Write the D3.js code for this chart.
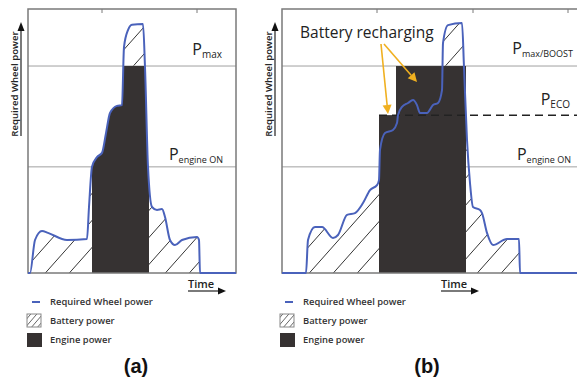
<!DOCTYPE html>
<html>
<head>
<meta charset="utf-8">
<script src="https://cdn.jsdelivr.net/npm/d3@7"></script>
<style>
  body { margin: 0; background: #fff; }
  svg { display: block; font-family: "Open Sans", sans-serif; }
</style>
</head>
<body>
<svg id="canvas" width="577" height="385"></svg>
<script>
// required wheel power over time, [time, power %]
const curveA = [[0,0],[1,0],[3.5,12.5],[7,15.9],[10,15.2],[19.5,12.5],[29.5,12.9],[30.5,25],[32,40.2],
  [34.5,43.9],[37,45.5],[39,53],[41,60.6],[44.5,63.3],[47,63.6],[48,85.6],[50,92],[52,94],[57.5,94.3],
  [58.5,78],[60,40.2],[62,25],[64.5,23.9],[67,24.2],[68.5,21.2],[71,12.5],[73.5,10.6],[77,12.5],
  [84.5,13.6],[85.5,12.5],[86,0],[104,0]];
const curveB = [[0,0],[12,0],[13,12.5],[16.5,17.4],[20,17.4],[25.5,13.3],[28,14.4],[32.5,22],[36.5,22.7],
  [40.5,26.5],[44,31.4],[47.5,33.3],[48.5,35.2],[49,46.6],[51.5,53],[55.5,54.2],[57.5,56.8],[58,59.8],
  [60,62.9],[63,64.4],[65.5,65.5],[67.5,63.6],[69,60.6],[72.5,60.6],[75.5,63.6],[78,64.4],[80,69.3],
  [80.5,87.1],[83,93.9],[90,94.7],[91,78],[92.5,50.4],[94,34.1],[95.5,25],[99,23.9],[100,22.7],
  [102.5,15.2],[105.5,10.6],[112.5,12.9],[118.5,12.9],[119,0],[150,0]];

// power levels
const P_MAX = 78.4, P_ECO = 59.8, P_ENGINE_ON = 40.2;

// engine running windows [start, end, top level]
const engineA = [[32, 60.5, P_MAX]];
const engineB = [[48.5, 92, P_ECO], [57, 92, P_MAX]];

const legendLabels = ["Required Wheel power", "Battery power", "Engine power"];

const svg = d3.select("#canvas");
const blue = "#4a62bb", dark = "#363232", grid = "#a0a0a0";

const y = d3.scaleLinear([0, 100], [273, 9]);
const xa = d3.scaleLinear([0, 104], [28, 236]);
const xb = d3.scaleLinear([0, 150], [282, 582]);

const defs = svg.append("defs");
defs.append("pattern").attr("id", "hatch")
    .attr("patternUnits", "userSpaceOnUse").attr("width", 24).attr("height", 27)
  .append("path").attr("d", "M-24,27L0,0M0,27L24,0M24,27L48,0")
    .attr("stroke", "#333").attr("stroke-width", 1);
defs.append("pattern").attr("id", "hatchSmall")
    .attr("patternUnits", "userSpaceOnUse").attr("width", 6).attr("height", 7)
  .append("path").attr("d", "M-6,7L0,0M0,7L6,0M6,7L12,0")
    .attr("stroke", "#666").attr("stroke-width", 1);

function drawPanel(cfg) {
  const x = cfg.x;
  const g = svg.append("g");
  const left = x.range()[0], right = cfg.right;

  g.append("rect").attr("x", left).attr("y", y(100)).attr("width", right - left)
    .attr("height", y(0) - y(100)).attr("fill", "#fff");

  const area = d3.area().curve(d3.curveMonotoneX)
    .x(d => x(d[0])).y0(y(0)).y1(d => y(d[1]));
  const line = d3.line().curve(d3.curveMonotoneX)
    .x(d => x(d[0])).y(d => y(d[1]));

  // battery power (everything under the demand curve)
  g.append("path").datum(cfg.curve).attr("d", area).attr("fill", "url(#hatch)");

  // level lines
  [P_MAX, P_ENGINE_ON].forEach(p => {
    g.append("line").attr("x1", left).attr("x2", right).attr("y1", y(p)).attr("y2", y(p))
      .attr("stroke", grid).attr("stroke-width", 1);
  });

  // engine power
  if (cfg.clipToCurve) {
    const id = "clip" + cfg.id;
    const cp = defs.append("clipPath").attr("id", id);
    cfg.engine.forEach(e => {
      cp.append("rect").attr("x", x(e[0])).attr("y", y(e[2]))
        .attr("width", x(e[1]) - x(e[0])).attr("height", y(0) - y(e[2]));
    });
    g.append("path").datum(cfg.curve).attr("d", area).attr("fill", dark)
      .attr("clip-path", `url(#${id})`);
  } else {
    cfg.engine.forEach(e => {
      g.append("rect").attr("x", x(e[0])).attr("y", y(e[2]))
        .attr("width", x(e[1]) - x(e[0])).attr("height", y(0) - y(e[2])).attr("fill", dark);
    });
  }

  if (cfg.eco) {
    g.append("line").attr("x1", x(cfg.engine[0][0])).attr("x2", 580)
      .attr("y1", y(P_ECO)).attr("y2", y(P_ECO))
      .attr("stroke", "#222").attr("stroke-width", 1.5).attr("stroke-dasharray", "8,5");
  }

  // frame
  g.append("rect").attr("x", left).attr("y", y(100)).attr("width", right - left)
    .attr("height", y(0) - y(100)).attr("fill", "none").attr("stroke", "#7a7a7a").attr("stroke-width", 1.5);
  cfg.ticks.forEach(t => {
    g.append("line").attr("x1", t).attr("x2", t).attr("y1", y(100)).attr("y2", y(100) + 4)
      .attr("stroke", "#7a7a7a");
  });

  // demand curve
  g.append("path").datum(cfg.curve).attr("d", line).attr("fill", "none")
    .attr("stroke", blue).attr("stroke-width", 2).attr("stroke-linejoin", "round");

  // level labels
  cfg.labels.forEach(l => {
    const t = g.append("text").attr("x", l.x).attr("y", l.y).attr("text-anchor", "end")
      .attr("fill", "#222").attr("font-family", "Open Sans");
    t.append("tspan").attr("font-size", 16).text("P");
    t.append("tspan").attr("font-size", l.subSize || 9).attr("dy", 3).text(l.sub);
  });

  // y axis title with arrow
  g.append("text").attr("transform", `translate(${cfg.yTitleX},84) rotate(-90)`)
    .attr("text-anchor", "middle").attr("dy", "0.35em").attr("font-size", 9.6)
    .attr("font-weight", 600).attr("fill", "#222").text("Required Wheel power");
  g.append("line").attr("x1", cfg.yTitleX + 6).attr("x2", cfg.yTitleX + 6)
    .attr("y1", 136).attr("y2", 30).attr("stroke", "#222").attr("stroke-width", 1.2);
  g.append("path").attr("d", d3.line()([[cfg.yTitleX + 2.5, 31], [cfg.yTitleX + 9.5, 31], [cfg.yTitleX + 6, 22]]))
    .attr("fill", "#111");

  // time title with arrow
  g.append("text").attr("x", cfg.timeX).attr("y", 288).attr("font-size", 11)
    .attr("font-weight", 600).attr("fill", "#222").text("Time");
  g.append("line").attr("x1", cfg.timeX).attr("x2", cfg.timeX + 31).attr("y1", 291).attr("y2", 291)
    .attr("stroke", "#222").attr("stroke-width", 1.2);
  g.append("path").attr("d", d3.line()([[cfg.timeX + 30, 287.5], [cfg.timeX + 30, 294.5], [cfg.timeX + 38, 291]]))
    .attr("fill", "#111");

  // legend
  const lx = cfg.legendX;
  g.append("line").attr("x1", lx + 5).attr("x2", lx + 13).attr("y1", 302).attr("y2", 302)
    .attr("stroke", blue).attr("stroke-width", 2);
  g.append("rect").attr("x", lx).attr("y", 314).attr("width", 14).attr("height", 13)
    .attr("fill", "url(#hatchSmall)").attr("stroke", "#888").attr("stroke-width", 1);
  g.append("rect").attr("x", lx).attr("y", 333).attr("width", 15).attr("height", 14)
    .attr("fill", dark);
  legendLabels.forEach((s, i) => {
    g.append("text").attr("x", lx + 23).attr("y", [302, 321, 340][i]).attr("dy", "0.35em")
      .attr("font-size", 9.4).attr("font-weight", 600).attr("fill", "#333").text(s);
  });

  g.append("text").attr("x", cfg.tagX).attr("y", 373).attr("text-anchor", "middle")
    .attr("font-family", "Liberation Sans, Arial, sans-serif").attr("font-weight", "bold")
    .attr("font-size", 20).attr("fill", "#111").text(cfg.name);
}

drawPanel({
  id: "A", name: "(a)", x: xa, right: 236, curve: curveA, engine: engineA, clipToCurve: true,
  ticks: [102, 197], yTitleX: 15, timeX: 188, legendX: 27, tagX: 136,
  labels: [{x: 222, y: 55, sub: "max", subSize: 10}, {x: 223, y: 160, sub: "engine ON"}]
});
drawPanel({
  id: "B", name: "(b)", x: xb, right: 585, curve: curveB, engine: engineB, clipToCurve: false, eco: true,
  ticks: [377, 473, 568], yTitleX: 269, timeX: 441, legendX: 280, tagX: 427,
  labels: [{x: 573, y: 54, sub: "max/BOOST"}, {x: 570, y: 105, sub: "ECO", subSize: 10},
           {x: 571, y: 160, sub: "engine ON"}]
});

// annotation
svg.append("text").attr("x", 300).attr("y", 38).attr("font-size", 15.5).attr("fill", "#222")
  .text("Battery recharging");
const orange = "#f0b020";
[[[381, 44], [388, 114]], [[384, 44], [417, 82]]].forEach(seg => {
  const [a, b] = seg;
  const ang = Math.atan2(b[1] - a[1], b[0] - a[0]);
  const back = [b[0] - 9 * Math.cos(ang), b[1] - 9 * Math.sin(ang)];
  svg.append("line").attr("x1", a[0]).attr("y1", a[1]).attr("x2", back[0]).attr("y2", back[1])
    .attr("stroke", orange).attr("stroke-width", 1.6);
  const n = [-Math.sin(ang) * 4.5, Math.cos(ang) * 4.5];
  svg.append("path").attr("d", d3.line()([[back[0] + n[0], back[1] + n[1]], b, [back[0] - n[0], back[1] - n[1]]]))
    .attr("fill", orange);
});
</script>
</body>
</html>
